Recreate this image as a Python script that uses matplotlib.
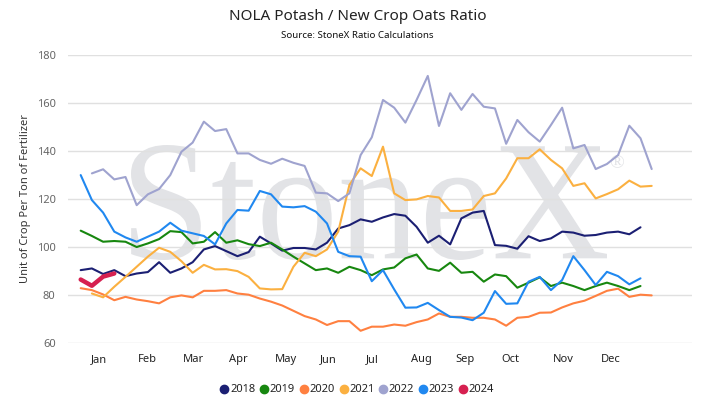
import numpy as np
import matplotlib
matplotlib.use("Agg")
import matplotlib.pyplot as plt
from matplotlib.lines import Line2D
from matplotlib.textpath import TextPath
from matplotlib.patches import PathPatch
from matplotlib.font_manager import FontProperties
from matplotlib.transforms import Affine2D

nan = np.nan

months = ["Jan", "Feb", "Mar", "Apr", "May", "Jun", "Jul", "Aug", "Sep", "Oct", "Nov", "Dec"]
month_pos = [1.66, 5.93, 10.09, 14.08, 18.31, 22.15, 26.05, 30.4, 34.35, 38.37, 43.1, 47.34]

y2018 = [90.4, 91.1, 88.8, 90.4, 87.9, 89.0, 89.6, 93.7, 89.3, 91.1, 93.7, 99.0, 100.4, 98.3, 96.2,
         97.9, 104.3, 101.5, 98.5, 99.6, 99.6, 99.0, 101.8, 107.7, 109.1, 111.5, 110.5, 112.3, 113.7,
         113.0, 108.4, 101.8, 104.7, 101.1, 111.9, 114.3, 115.0, 100.8, 100.5, 99.3, 104.5, 102.5,
         103.6, 106.4, 106.0, 104.7, 105.0, 106.0, 106.4, 105.3, 108.2]
y2019 = [106.8, 104.6, 102.2, 102.5, 102.2, 100.0, 101.5, 103.3, 106.6, 106.2, 101.5, 102.2, 106.2,
         101.8, 102.8, 101.2, 100.4, 101.8, 99.0, 96.0, 93.2, 90.4, 91.1, 89.3, 91.8, 90.4, 88.3, 90.7,
         91.5, 95.3, 96.9, 91.1, 90.1, 93.5, 89.3, 89.7, 85.6, 88.6, 87.9, 83.1, 85.2, 87.4, 83.8, 85.2,
         83.8, 82.1, 83.8, 85.2, 83.8, 82.1, 83.8]
y2020 = [82.9, 82.1, 80.3, 77.9, 79.3, 78.2, 77.5, 76.6, 79.1, 79.9, 79.1, 81.8, 81.8, 82.1, 80.7,
         80.2, 78.6, 77.3, 75.7, 73.5, 71.3, 69.9, 67.6, 69.2, 69.2, 65.2, 66.9, 66.9, 67.8, 67.3, 68.8,
         69.9, 72.4, 71.0, 71.0, 70.6, 70.6, 69.9, 67.3, 70.6, 71.0, 72.7, 72.8, 74.9, 76.6, 77.7, 79.7,
         81.8, 82.7, 79.3, 80.2, 79.9]
y2021 = [nan, 80.7, 79.1, 83.5, 87.6, 91.8, 96.0, 99.7, 98.0, 94.1, 89.3, 92.6, 90.7, 90.8, 90.0, 87.6,
         82.8, 82.4, 82.5, 91.8, 97.6, 96.2, 99.0, 106.4, 125.8, 132.7, 129.5, 141.7, 122.3, 119.5,
         119.8, 121.2, 120.6, 115.0, 115.0, 115.6, 121.2, 122.3, 128.5, 136.9, 136.9, 140.6, 136.2,
         132.7, 125.4, 126.5, 120.2, 122.0, 124.0, 127.6, 125.1, 125.4]
y2022 = [nan, 130.6, 132.3, 128.1, 129.1, 117.4, 121.9, 124.1, 129.9, 139.6, 143.4, 152.1, 148.2, 149.0,
         138.9, 138.9, 136.2, 134.6, 136.7, 135.0, 133.7, 122.6, 122.3, 119.1, 122.3, 138.2, 145.6,
         161.1, 157.9, 151.7, 161.1, 171.1, 150.3, 163.9, 157.0, 163.6, 158.3, 157.6, 142.9, 152.8,
         147.7, 143.8, 150.7, 157.9, 141.0, 142.4, 132.4, 134.5, 138.2, 150.4, 145.2, 132.4]
y2023 = [129.9, 119.5, 114.3, 106.4, 104.0, 102.2, 104.3, 106.4, 110.1, 106.8, 105.7, 104.6, 101.1,
         109.8, 115.4, 115.1, 123.3, 121.9, 116.8, 116.5, 117.0, 114.7, 109.8, 98.0, 96.2, 96.0, 85.8,
         90.4, 82.4, 74.8, 74.9, 76.8, 73.8, 71.0, 70.7, 69.6, 72.7, 81.7, 76.4, 76.6, 85.6, 87.6, 82.1,
         86.3, 96.2, 90.4, 84.2, 89.7, 87.9, 84.5, 87.0]
y2024 = [86.5, 83.9, 87.7, 89.0]

series = [
    ("2018", y2018, "#1b1f73", 1.5),
    ("2019", y2019, "#17870f", 1.5),
    ("2020", y2020, "#ff8040", 1.5),
    ("2021", y2021, "#fbb040", 1.5),
    ("2022", y2022, "#9fa3cf", 1.5),
    ("2023", y2023, "#2088f0", 1.5),
    ("2024", y2024, "#d62050", 3.2),
]

W, H = 715, 418
fig = plt.figure(figsize=(W / 100, H / 100), dpi=100)

# background overlay axes in pixel coordinates for the watermark
bg = fig.add_axes([0, 0, 1, 1], zorder=0)
bg.set_xlim(0, W)
bg.set_ylim(H, 0)
bg.axis("off")

L, R, T, B = 68, 691.7, 54.5, 343.3
ax = fig.add_axes([L / W, 1 - B / H, (R - L) / W, (B - T) / H], zorder=1)
ax.set_facecolor("none")

wm_col = "#e2e3e6"
tp = TextPath((0, 0), "StoneX", size=100, prop=FontProperties(family="Liberation Serif"))
ext = tp.get_extents()
x0, x1, y0, y1 = 131, 607, 145, 260
sx = (x1 - x0) / ext.width
sy = (y1 - y0) / ext.height
tr = Affine2D().translate(-ext.x0, -ext.y1).scale(sx, -sy).translate(x0, y0)
bg.add_patch(PathPatch(tr.transform_path(tp), facecolor=wm_col, edgecolor="none"))
bg.text(617, 164, "\u00ae", fontsize=14, family="Liberation Serif", color=wm_col,
        ha="center", va="center")

for name, vals, col, lw in series:
    x = np.arange(len(vals))
    ax.plot(x, vals, color=col, lw=lw, solid_joinstyle="round", solid_capstyle="round", zorder=3)

ax.set_xlim((L - 80.7) / 11.196, (R - 80.7) / 11.196)
ax.set_ylim(60, 180)
ax.set_yticks(range(60, 181, 20))
ax.set_xticks(month_pos)
ax.set_xticklabels(months, fontweight="bold", color="#222222", fontsize=8, family="Noto Sans")
for lab in ax.get_yticklabels():
    lab.set_family("Noto Sans")
ax.tick_params(axis="y", length=0, pad=9, labelsize=8, labelcolor="#666666")
ax.tick_params(axis="x", length=0, pad=8)
ax.grid(axis="y", color="#e0e0e0", lw=1)
ax.set_axisbelow(True)
for s in ax.spines.values():
    s.set_visible(False)

ax.set_ylabel("Unit of Crop Per Ton of Fertilizer", fontsize=8, color="#333333",
              family="Noto Sans", labelpad=4)

fig.text(0.5, 1 - 17 / H, "NOLA Potash / New Crop Oats Ratio", ha="center", va="center",
         fontsize=11, color="#222222", family="Noto Sans")
fig.text(0.5, 1 - 35 / H, "Source: StoneX Ratio Calculations", ha="center", va="center",
         fontsize=7, fontweight="bold", color="#111111", family="Noto Sans")

handles = [Line2D([], [], ls="none", marker="o", markersize=6, color=c, label=n)
           for n, _, c, _ in series]
leg = fig.legend(handles=handles, loc="center", bbox_to_anchor=(0.5, 1 - 390 / H), ncol=7,
                 frameon=False, handletextpad=0.2, columnspacing=0.5, handlelength=0.6,
                 prop={"family": "Noto Sans", "weight": "bold", "size": 8})
for t in leg.get_texts():
    t.set_color("#222222")

fig.savefig("out.png", dpi=100)
